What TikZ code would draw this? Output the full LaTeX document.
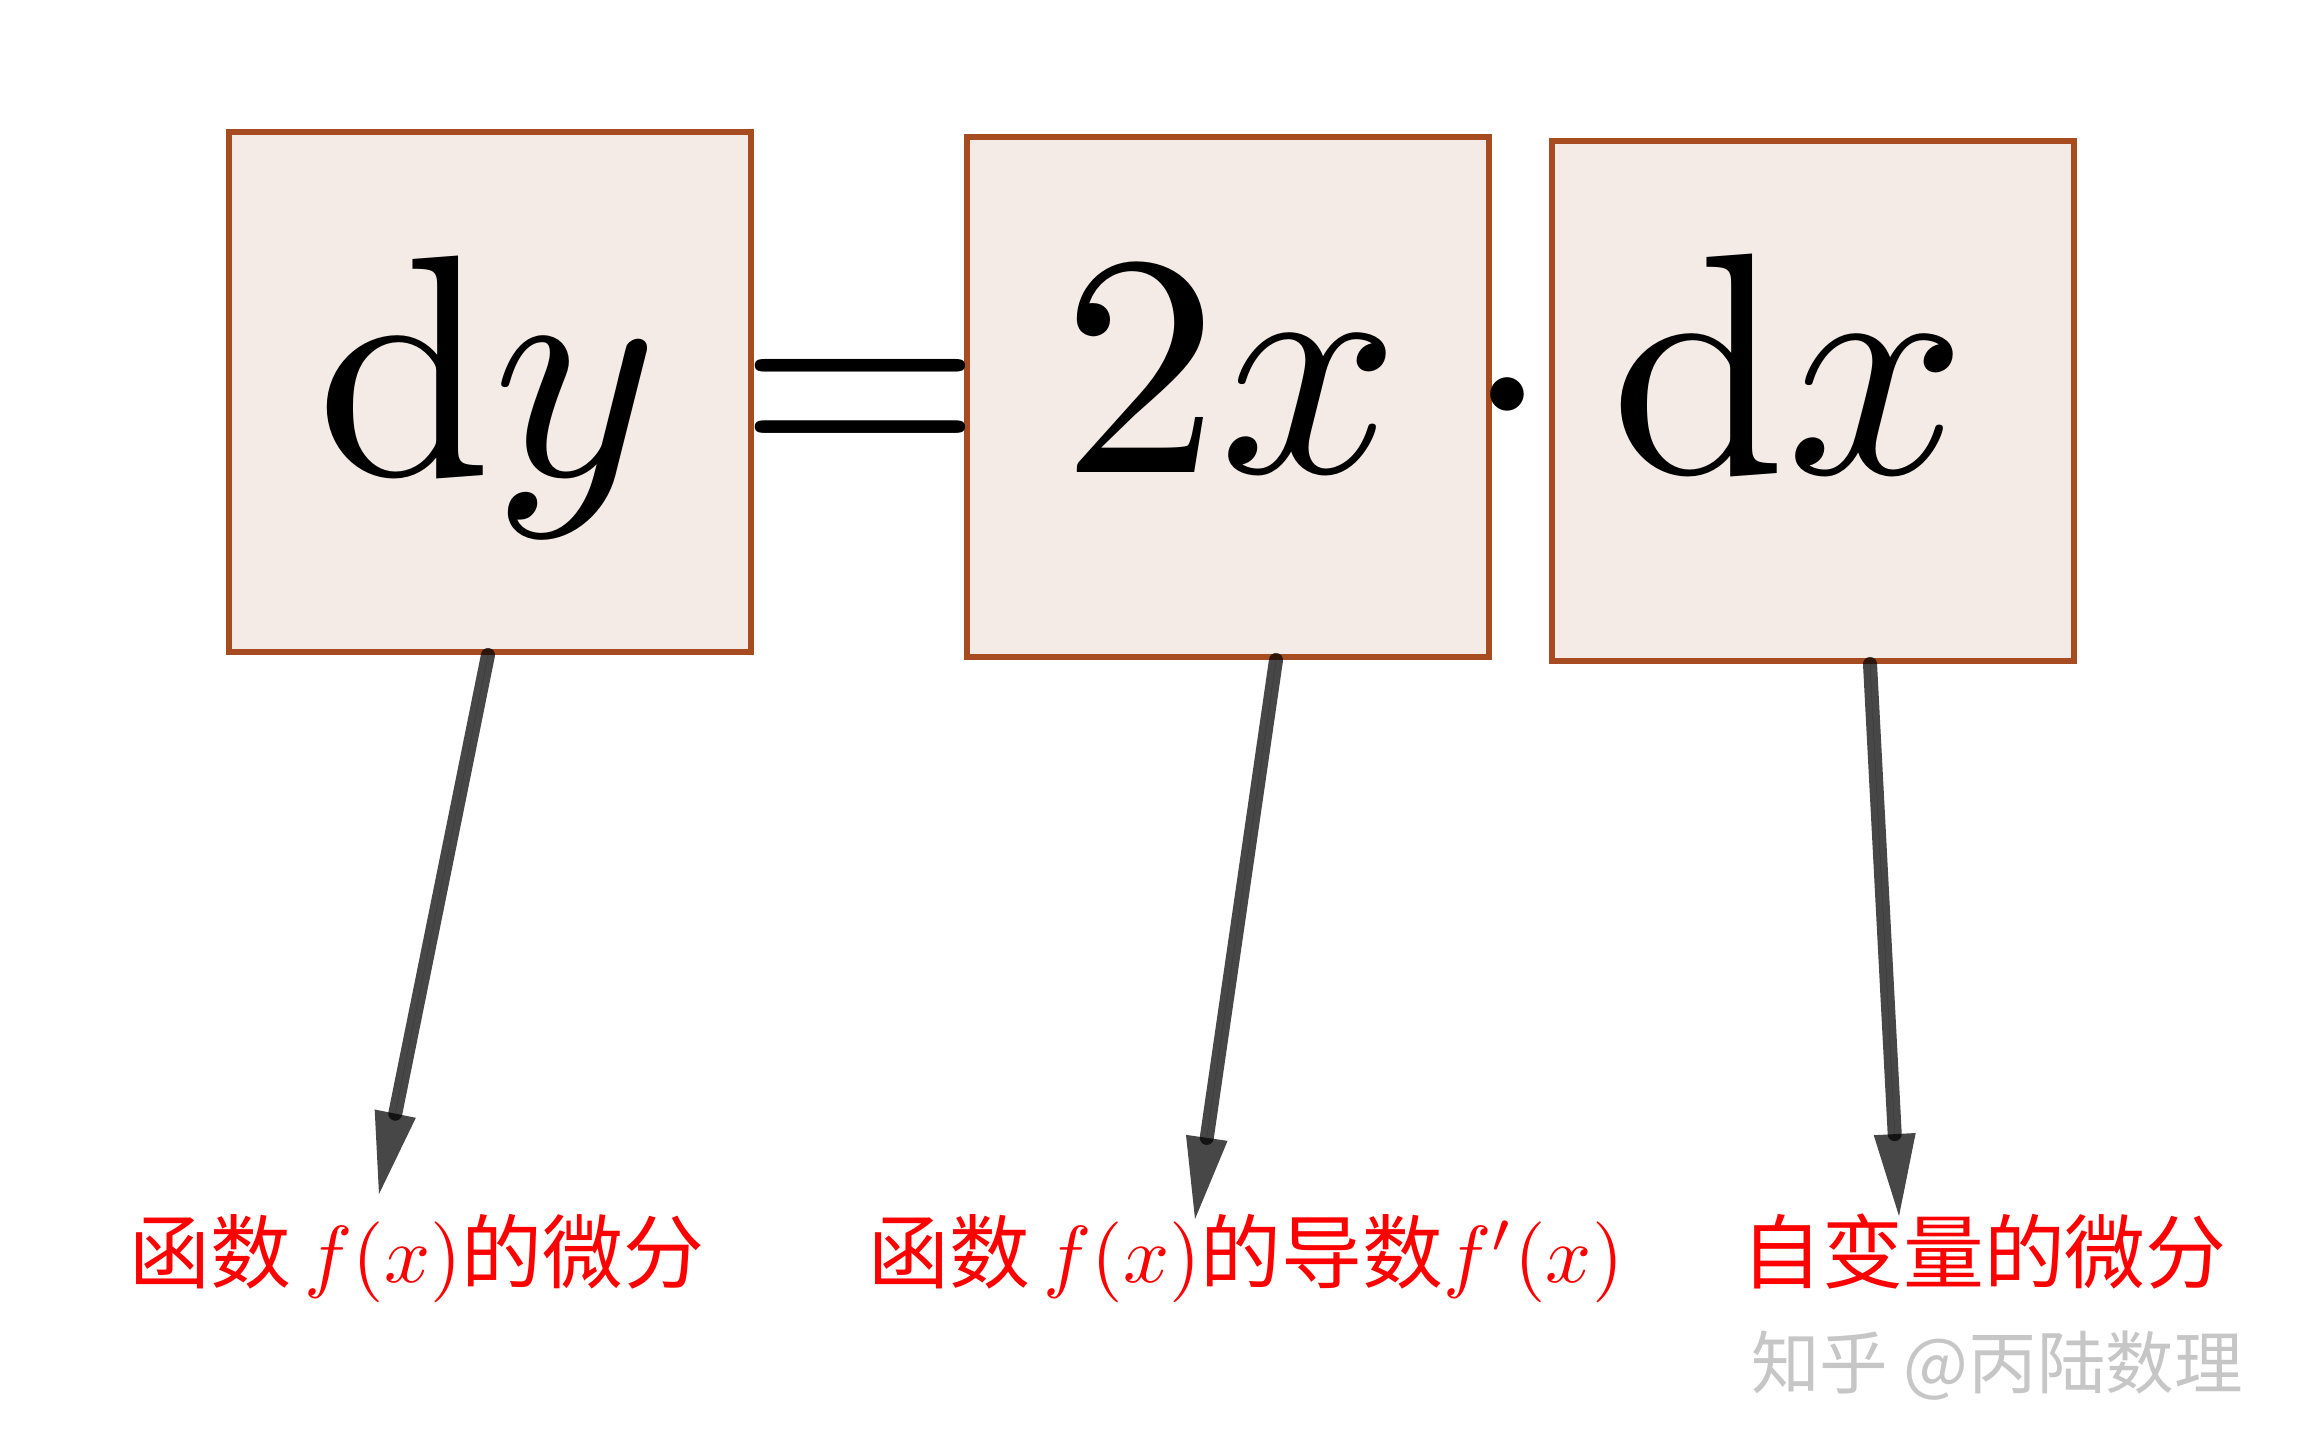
\documentclass[tikz,border=0pt]{standalone}
\usepackage{fontspec}
\usepackage{graphicx}
\newfontfamily\cjk{Noto Sans CJK SC}
\usetikzlibrary{arrows.meta,calc}
\definecolor{boxfill}{RGB}{244,235,230}
\definecolor{boxline}{RGB}{166,76,32}
\newcommand{\hugemath}[1]{\scalebox{9}{$#1$}}
\newcommand{\redtext}[1]{\scalebox{2.3}{\cjk #1}}
\begin{document}
\begin{tikzpicture}[x=1cm,y=1cm,
  termbox/.style={draw=boxline, fill=boxfill, line width=1.7pt, minimum width=5.22cm, minimum height=5.20cm, inner sep=0pt},
  bigmath/.style={anchor=base, inner sep=0pt, font=\fontsize{10}{12}\selectfont},
  redlabel/.style={anchor=base, inner sep=0pt, text=red, font=\fontsize{10}{12}\selectfont},
  pointer/.style={draw=black, fill=black, opacity=0.72, line width=4pt, line cap=round, -{Triangle[length=0.82cm,width=0.42cm,line width=0pt]}},
]
\useasboundingbox[fill=white] (0,0) rectangle (23.04,-14.55);

\node[termbox] (b1) at (4.90,-3.92) {};
\node[termbox] (b2) at (12.28,-3.97) {};
\node[termbox] (b3) at (18.13,-4.01) {};

\node[bigmath] (t1) at (4.88,-4.75) {\hugemath{\mathrm{d}y}};
\node[bigmath] (eq) at (8.60,-4.75) {\hugemath{=}};
\node[bigmath] (t2) at (12.31,-4.72) {\hugemath{2x}};
\node[bigmath] (dot) at (15.07,-4.73) {\hugemath{\cdot}};
\node[bigmath] (t3) at (17.885,-4.73) {\hugemath{\mathrm{d}x}};

\node[redlabel] (l1) at (4.17,-12.82) {\redtext{函数\,$f(x)$的微分}};
\node[redlabel] (l2) at (12.46,-12.82) {\redtext{函数\,$f(x)$的导数$f'(x)$}};
\node[redlabel] (l3) at (19.84,-12.82) {\redtext{自变量的微分}};

\node[anchor=base, inner sep=0pt, text=gray!45, font=\cjk\fontsize{19.5}{22}\selectfont] (wm) at (19.97,-13.88) {知乎 @丙陆数理};

\coordinate (tip1) at (3.79,-11.94);
\coordinate (tip2) at (11.95,-12.19);
\coordinate (tip3) at (18.99,-12.16);
\draw[pointer] ($(b1.south)+(-0.02,0)$) -- (tip1);
\draw[pointer] ($(b2.south)+(0.48,0)$) -- (tip2);
\draw[pointer] ($(b3.south)+(0.57,0)$) -- (tip3);
\end{tikzpicture}
\end{document}
